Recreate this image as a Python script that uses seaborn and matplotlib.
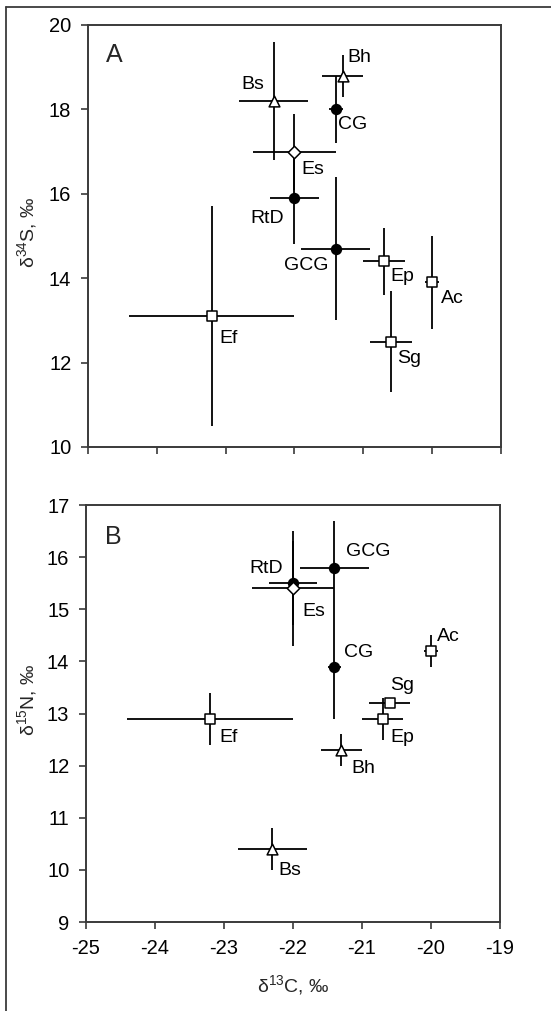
import matplotlib
matplotlib.use("Agg")
import matplotlib.pyplot as plt
import seaborn as sns
import pandas as pd
from matplotlib.lines import Line2D

sns.set_style("white")
plt.rcParams['font.family'] = ['Liberation Sans', 'DejaVu Sans']
plt.rcParams['mathtext.fontset'] = 'custom'
plt.rcParams['mathtext.rm'] = 'Liberation Sans'
plt.rcParams['mathtext.default'] = 'regular'

# ---- data ----
species = ["Bs", "Bh", "CG", "Es", "RtD", "GCG", "Ep", "Ac", "Sg", "Ef"]
group = ["tri", "tri", "circ", "dia", "circ", "circ", "sq", "sq", "sq", "sq"]
d13C = [-22.3, -21.3, -21.4, -22.0, -22.0, -21.4, -20.7, -20.0, -20.6, -23.2]
d13C_sd = [0.5, 0.3, 0.1, 0.6, 0.35, 0.5, 0.3, 0.1, 0.3, 1.2]
d34S = [18.2, 18.8, 18.0, 17.0, 15.9, 14.7, 14.4, 13.9, 12.5, 13.1]
d34S_sd = [1.4, 0.5, 0.8, 0.9, 1.1, 1.7, 0.8, 1.1, 1.2, 2.6]
d15N = [10.4, 12.3, 13.9, 15.4, 15.5, 15.8, 12.9, 14.2, 13.2, 12.9]
d15N_sd = [0.4, 0.3, 1.0, 1.1, 0.8, 0.9, 0.4, 0.3, 0.05, 0.5]

# label offsets (pixels) for each panel
offA = {"Bs": (-21, 16), "Bh": (17, 18), "CG": (17, -15), "Es": (18, -18),
        "RtD": (-27, -20), "GCG": (-30, -17), "Ep": (18, -15), "Ac": (20, -16),
        "Sg": (18, -17), "Ef": (17, -22)}
offB = {"Bs": (18, -21), "Bh": (22, -19), "CG": (24, 14), "Es": (21, -23),
        "RtD": (-27, 15), "GCG": (34, 16), "Ep": (20, -19), "Ac": (17, 14),
        "Sg": (13, 18), "Ef": (18, -19)}

df = pd.DataFrame({"species": species, "group": group, "C": d13C, "Csd": d13C_sd,
                   "S": d34S, "Ssd": d34S_sd, "N": d15N, "Nsd": d15N_sd})

markers = {"tri": "^", "circ": "o", "dia": "D", "sq": "s"}
palette = {"tri": "white", "circ": "black", "dia": "white", "sq": "white"}
sizes = {"tri": 60, "circ": 50, "dia": 40, "sq": 45}

W, H = 551, 1011
fig = plt.figure(figsize=(W / 100, H / 100), dpi=100)

axA = fig.add_axes([88 / W, 1 - 447 / H, 413 / W, 422 / H])
axB = fig.add_axes([86 / W, 1 - 922 / H, 414 / W, 417 / H])

spine_col = "#3a3a3a"


def draw(ax, ycol, ysdcol, offs):
    ax.errorbar(df["C"], df[ycol], xerr=df["Csd"], yerr=df[ysdcol], fmt="none",
                ecolor="black", elinewidth=1.3, capsize=0, zorder=2)
    for g in ["sq", "tri", "circ", "dia"]:
        sub = df[df["group"] == g]
        sns.scatterplot(data=sub, x="C", y=ycol, marker=markers[g], color=palette[g],
                        edgecolor="black", linewidth=1.1, s=sizes[g], ax=ax,
                        legend=False, zorder=3)
    for _, r in df.iterrows():
        dx, dy = offs[r["species"]]
        ax.annotate(r["species"], (r["C"], r[ycol]), xytext=(dx, dy),
                    textcoords="offset pixels", ha="center", va="center",
                    fontsize=14, color="black", zorder=4)
    ax.set_xlim(-25, -19)
    ax.set_xticks(range(-25, -18))
    for sp in ax.spines.values():
        sp.set_color(spine_col)
        sp.set_linewidth(1.4)
        sp.set_visible(True)
    ax.tick_params(axis="both", direction="out", length=5, width=1.2,
                   color=spine_col, labelsize=14.5, pad=7, labelcolor="black",
                   left=True, bottom=True, top=False, right=False)
    ax.set_facecolor("white")
    ax.set_ylabel("")


draw(axA, "S", "Ssd", offA)
axA.set_ylim(10, 20)
axA.set_yticks(range(10, 21, 2))
axA.set_xticklabels([])
axA.set_xlabel("")
axA.text(0.063, 0.929, "A", transform=axA.transAxes, fontsize=18,
         ha="center", va="center")

draw(axB, "N", "Nsd", offB)
axB.set_ylim(9, 17)
axB.set_yticks(range(9, 18))
axB.set_xticklabels([str(v) for v in range(-25, -18)])
axB.set_xlabel(r"δ$^{13}$C, ‰", fontsize=14)
axB.xaxis.set_label_coords(0.5, -0.122)
axB.text(0.065, 0.923, "B", transform=axB.transAxes, fontsize=18,
         ha="center", va="center")

# y-axis titles
fig.text(27 / W, 1 - 232 / H, r"δ$^{34}$S, ‰", rotation=90, fontsize=14,
         ha="center", va="center")
fig.text(27 / W, 1 - 700 / H, r"δ$^{15}$N, ‰", rotation=90, fontsize=14,
         ha="center", va="center")

# outer frame (top and left)
fig.add_artist(Line2D([6 / W, 1.0], [1 - 7 / H, 1 - 7 / H], color=spine_col,
                      linewidth=1.3, transform=fig.transFigure))
fig.add_artist(Line2D([6 / W, 6 / W], [0.0, 1 - 7 / H], color=spine_col,
                      linewidth=1.3, transform=fig.transFigure))

fig.savefig("out.png", dpi=100)
